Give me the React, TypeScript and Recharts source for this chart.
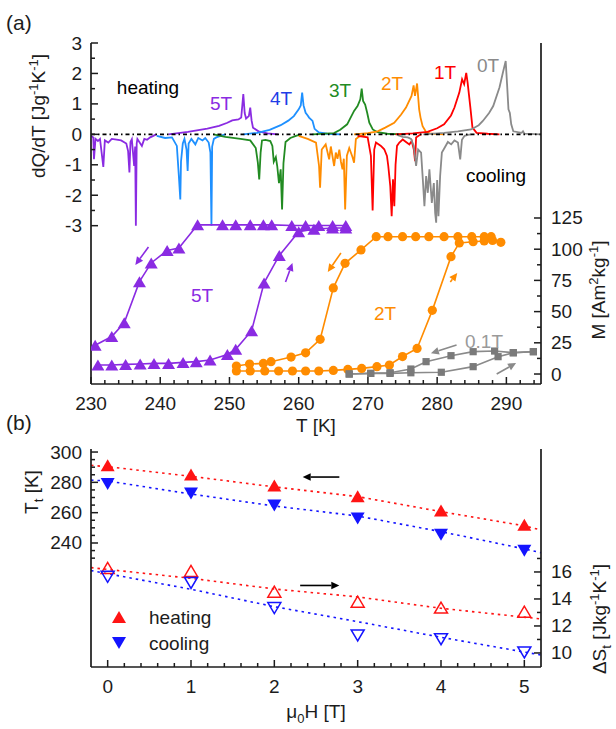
import { ComposedChart, Line, Scatter, XAxis, YAxis, ReferenceLine } from 'recharts'

const FONT = '"Liberation Sans", Arial, sans-serif'
const INK = '#1c1c1c'
const FS = 19

const PURPLE = '#8a2be2'
const BLUE = '#1e90ff'
const GREEN = '#228b22'
const ORANGE = '#ff8c00'
const RED = '#ff0000'
const GRAY = '#8a8a8a'
const RED_B = '#ff1414'
const BLUE_B = '#1414ff'

type P = [number, number]

// (a) dQ/dT [J/gK] vs T [K] -- heating runs (positive)
const heat5T: P[] = [[241.2, 0], [244, 0.08], [246.8, 0.19], [248.5, 0.28], [249.7, 0.38], [250.4, 0.46], [251.3, 0.49], [251.7, 0.55], [252, 1.32], [252.2, 0.7], [252.4, 0.52], [252.8, 0.6], [253, 0.88], [253.2, 0.45], [253.4, 0.22], [254.2, 0.1], [255.5, 0.03], [257, 0]]
const heat4T: P[] = [[252, 0], [254, 0.05], [255.8, 0.15], [257.4, 0.3], [258.5, 0.45], [259.3, 0.6], [260, 0.82], [260.3, 0.95], [260.5, 1.37], [260.7, 0.95], [261, 0.71], [261.3, 0.62], [261.5, 0.55], [262, 0.44], [262.3, 0.18], [262.9, 0.06], [264.1, 0.02], [266, 0]]
const heat3T: P[] = [[262, 0], [265.1, 0.04], [266, 0.15], [267, 0.33], [268, 0.77], [268.5, 0.93], [268.9, 1.15], [269.1, 1.5], [269.3, 1.1], [269.6, 0.98], [269.9, 0.7], [270.2, 0.38], [270.7, 0.16], [271.4, 0.07], [272.8, 0.02], [275, 0]]
const heat2T: P[] = [[268, 0], [270, 0.04], [271.4, 0.1], [272.5, 0.22], [273.8, 0.38], [274.8, 0.65], [275.5, 0.88], [276.3, 1.26], [276.6, 1.61], [276.8, 1.26], [277.1, 1.67], [277.4, 0.82], [277.6, 0.55], [277.9, 0.27], [278.4, 0.08], [279.1, 0.02], [281, 0]]
const heat1T: P[] = [[274, 0], [276.5, 0.03], [278.6, 0.08], [280, 0.2], [281, 0.33], [282, 0.62], [282.5, 0.88], [283.2, 1.37], [283.6, 1.81], [283.9, 1.65], [284.2, 2.02], [284.4, 1.7], [284.8, 0.88], [285.1, 0.22], [285.7, 0.05], [287.3, 0.02], [289, 0]]
const heat0T: P[] = [[278, 0], [281, 0.05], [283, 0.1], [284.9, 0.16], [286, 0.3], [286.6, 0.44], [287.5, 0.7], [288.1, 0.93], [289, 1.54], [289.5, 2.03], [289.9, 2.41], [290.1, 1.64], [290.3, 0.82], [290.5, 0.7], [290.7, 0.33], [291, 0.1], [292.2, 0.05], [292.4, 0.1], [292.6, 0.02], [295, 0]]

// cooling runs (negative spikes)
const cool5T: P[] = [[230.0, -0.05], [230.33, -0.1], [230.43, -0.82], [230.65, -0.15], [231.0, -0.22], [231.3, -0.15], [231.78, -1.07], [232.0, -0.2], [232.5, -0.27], [233.0, -0.15], [233.7, -0.17], [234.35, -0.2], [235.1, -0.3], [235.36, -0.55], [235.55, -1.25], [235.7, -0.25], [235.9, -0.16], [236.23, -1.04], [236.38, -0.4], [236.48, -3.0], [236.6, -0.3], [236.7, -0.15], [237.35, -0.38], [237.7, -0.15], [238.1, -0.18], [238.55, -0.1], [239.0, -0.05], [239.4, 0]]
const cool4T: P[] = [[239.5, -0.05], [240.7, -0.12], [241.7, -0.1], [242.4, -0.38], [242.7, -1.4], [242.9, -2.14], [243.0, -0.9], [243.26, -0.3], [243.5, -0.15], [243.8, -0.5], [243.96, -1.2], [244.1, -0.3], [244.5, -0.15], [245.07, -0.33], [245.5, -0.12], [246.1, -0.2], [246.5, -0.12], [247.0, -0.27], [247.25, -0.6], [247.4, -3.0], [247.5, -0.4], [247.75, -0.15], [248.1, -0.1], [248.7, -0.05], [249.4, 0]]
const cool3T: P[] = [[247.7, 0], [249.4, -0.08], [251.6, -0.15], [253.0, -0.2], [253.8, -0.45], [254.1, -0.93], [254.3, -1.48], [254.5, -0.6], [254.7, -0.2], [255.2, -0.18], [255.9, -0.22], [256.2, -0.38], [256.4, -0.9], [256.7, -0.75], [256.9, -1.04], [257.15, -1.6], [257.4, -1.15], [257.6, -2.47], [257.8, -0.95], [258.1, -0.25], [258.8, -0.12], [259.6, -0.05], [260.3, 0]]
const cool2T: P[] = [[260.0, -0.05], [261.3, -0.15], [262.5, -0.27], [262.94, -1.04], [263.09, -1.75], [263.33, -0.5], [263.9, -0.33], [264.4, -0.82], [264.64, -0.4], [265.12, -1.04], [265.36, -0.6], [265.6, -0.8], [265.87, -0.5], [266.1, -0.9], [266.33, -1.15], [266.52, -0.8], [266.71, -2.47], [266.96, -0.7], [267.3, -0.45], [267.78, -0.75], [268.0, -0.93], [268.26, -0.15], [268.7, -0.08], [269.7, 0]]
const cool1T: P[] = [[268.5, -0.05], [269.96, -0.1], [270.43, -0.71], [270.68, -2.5], [270.91, -0.5], [271.16, -0.27], [271.88, -0.38], [272.36, -0.49], [272.75, -0.71], [272.94, -1.04], [273.23, -1.7], [273.43, -2.69], [273.62, -1.48], [273.81, -2.36], [273.99, -1.0], [274.2, -0.38], [274.54, -0.27], [275.03, -0.17], [275.5, -0.25], [275.99, -0.33], [276.33, -0.22], [276.62, -0.49], [276.81, -0.88], [276.96, -0.1], [277.43, -0.03], [277.7, 0]]
const cool0T: P[] = [[274.3, -0.03], [275.03, -0.08], [275.75, -0.1], [276.23, -0.15], [276.62, -0.38], [276.96, -1.04], [277.25, -0.5], [277.68, -0.6], [277.93, -1.48], [278.16, -2.36], [278.41, -1.37], [278.65, -1.92], [278.88, -1.15], [279.23, -2.25], [279.52, -1.6], [279.71, -2.58], [279.86, -2.9], [280.0, -1.5], [280.19, -2.69], [280.43, -1.37], [280.68, -0.6], [281.06, -0.45], [281.55, -0.25], [282.03, -0.33], [282.5, -0.2], [283.0, -0.27], [283.33, -0.82], [283.58, -0.18], [283.96, -0.05], [284.45, -0.02], [284.9, 0]]

// (a) M [Am2/kg] vs T [K]
const m5Heat: P[] = [[231, 7.2], [233, 7.2], [235, 7.7], [237.1, 8], [239.1, 8.5], [241.2, 8.5], [243.3, 9.3], [245.2, 9.9], [247.2, 11.2], [249.7, 15.7], [250.9, 19.8], [253.2, 34.7], [255, 73], [257.2, 95], [260, 114], [262.2, 116], [264.9, 117], [266.8, 117]]
const m5Cool: P[] = [[266.8, 119], [264.9, 119], [262.9, 119], [261, 119], [259, 119], [256.1, 119.5], [254.9, 119.5], [253, 119.5], [250.9, 119.5], [249, 119.5], [245.4, 119.5], [242.7, 101], [241, 99], [238.7, 89], [237, 74], [234.8, 41], [233, 30], [230.6, 23]]
const m2Heat: P[] = [[251, 2.4], [253, 2.4], [255.1, 2.4], [257.1, 2.4], [259.1, 2.4], [261, 2.4], [262.9, 2.4], [265, 2.9], [267.1, 3.7], [269.1, 4.5], [271.3, 5.9], [273.1, 7.2], [275, 14], [277.1, 20.5], [279.3, 51], [282, 94], [283.2, 105], [285.2, 106], [286.8, 106.6], [288, 107], [289.2, 105.5]]
const m2Cool: P[] = [[287.8, 110], [286.8, 110], [285, 110], [283, 110], [281, 110], [278.8, 110], [276.9, 110], [275, 110], [272.9, 110], [271.2, 110], [269, 99.4], [266.7, 88.7], [265, 69], [263.1, 27.8], [261, 17], [258.9, 13.6], [256, 9.9], [254.9, 8.5], [252.9, 8], [251, 6.4]]
const m01Heat: P[] = [[267.3, 0], [270.4, 0.5], [273.2, 0.5], [276.2, 1], [280.6, 1.4], [285.2, 5.9], [288.8, 13.9], [291, 17], [293.9, 17.9]]
const m01Cool: P[] = [[293.9, 17.9], [291, 17.1], [288.3, 18.4], [285.2, 17.9], [282, 14.7], [278.4, 9.9], [276.2, 4], [273.2, 1], [270.4, 0.5], [267.3, 0]]

// arrows along the loops, [T, M] -> [T, M]
const mArrows: { from: P; to: P; key: string }[] = [
  { key: '5c', from: [238.3, 101.8], to: [236.4, 87.3] },
  { key: '5h', from: [258.1, 73.7], to: [259.1, 89] },
  { key: '2c', from: [266.1, 97], to: [264.2, 81.7] },
  { key: '2h', from: [281.9, 73.7], to: [282.9, 81] },
  { key: '01c', from: [282.8, 23.2], to: [279.1, 16.6] },
  { key: '01h', from: [288.6, 0], to: [291.4, 8.8] },
]

// (b) transition temperature and entropy change vs field
const fieldH = [0, 1, 2, 3, 4, 5]
const ttHeat = [291.2, 285.1, 277.9, 270.9, 261.5, 252]
const ttCool = [278.9, 272.6, 264.7, 256.2, 245.5, 234.8]
const dsHeat = [16.3, 16.08, 14.54, 13.8, 13.36, 13.06]
const dsCool = [15.64, 15.19, 13.33, 11.3, 11.02, 10.04]

// dotted fit curves
const fitTtHeat: P[] = [[-0.2, 291.2], [0, 290.3], [1, 284], [2, 277], [3, 270.6], [4, 260.7], [5, 251.3], [5.2, 248.6]]
const fitTtCool: P[] = [[-0.2, 281.5], [0, 280.9], [1, 272.3], [2, 264.4], [3, 257.8], [4, 247.5], [5, 236.1], [5.2, 233.6]]
const fitDsHeat: P[] = [[-0.2, 16.32], [1, 15.53], [2, 14.74], [3, 14.15], [4, 13.31], [5.2, 12.52]]
const fitDsCool: P[] = [[-0.2, 16.1], [1, 14.72], [2, 13.43], [3, 12.32], [4, 11.16], [5.2, 9.85]]

const tTicks = Array.from({ length: 33 }, (_, i) => 230 + 2 * i)
const qTicks = Array.from({ length: 13 }, (_, i) => -3 + 0.5 * i)
const mTicks = Array.from({ length: 11 }, (_, i) => 12.5 * i)
const hTicks = Array.from({ length: 26 }, (_, i) => i / 5)
const ttTicks = Array.from({ length: 15 }, (_, i) => 230 + 5 * i)
const dsTicks = [10, 11, 12, 13, 14, 15, 16, 17]

const qPts = (a: P[]) => a.map(([t, q]) => ({ t, q }))
const mPts = (a: P[]) => a.map(([t, m]) => ({ t, m }))
const hPts = (a: P[], k: string) => a.map(([h, v]) => ({ h, [k]: v }))

const TM = 8
type Side = 'left' | 'right' | 'bottom' | 'top'

function makeTick(side: Side, isMajor: (v: number) => boolean, label = true) {
  return (p: any) => {
    const v = p.payload.value
    const big = isMajor(v)
    const len = big ? 7 : 4
    const txt = { fontFamily: FONT, fontSize: FS, fill: INK }
    if (side === 'left') {
      const ax = p.x + TM
      return (
        <g>
          <line x1={ax} x2={ax + len} y1={p.y} y2={p.y} stroke={INK} strokeWidth={1.5} />
          {label && big && <text x={ax - 9} y={p.y} dy={6.5} textAnchor="end" {...txt}>{v}</text>}
        </g>
      )
    }
    if (side === 'right') {
      const ax = p.x - TM
      return (
        <g>
          <line x1={ax} x2={ax - len} y1={p.y} y2={p.y} stroke={INK} strokeWidth={1.5} />
          {label && big && <text x={ax + 10} y={p.y} dy={6.5} textAnchor="start" {...txt}>{v}</text>}
        </g>
      )
    }
    if (side === 'top') {
      const ay = p.y + TM
      return <line x1={p.x} x2={p.x} y1={ay} y2={ay + len} stroke={INK} strokeWidth={1.5} />
    }
    const ay = p.y - TM
    return (
      <g>
        <line x1={p.x} x2={p.x} y1={ay} y2={ay - len} stroke={INK} strokeWidth={1.5} />
        {label && big && <text x={p.x} y={ay + 26} textAnchor="middle" {...txt}>{v}</text>}
      </g>
    )
  }
}

const isInt = (v: number) => Math.abs(v - Math.round(v)) < 1e-6

function triPath(cx: number, cy: number, w: number, h: number, down = false) {
  const a = down ? 1 : -1
  return `M${cx},${cy + (a * h) / 2} L${cx - w / 2},${cy - (a * h) / 2} L${cx + w / 2},${cy - (a * h) / 2} Z`
}

const triDot = (color: string) => (p: any) =>
  <path key={`t${p.index}`} d={triPath(p.cx, p.cy, 13, 11)} fill={color} />
const circDot = (color: string) => (p: any) =>
  <circle key={`c${p.index}`} cx={p.cx} cy={p.cy} r={4.6} fill={color} />
const sqDot = (color: string) => (p: any) =>
  <rect key={`s${p.index}`} x={p.cx - 3.6} y={p.cy - 3.6} width={7.2} height={7.2} fill={color} />

const arrowShape = (color: string) => (p: any) => {
  const { x1, y1, x2, y2 } = p
  const ang = Math.atan2(y2 - y1, x2 - x1)
  const L = 8
  const W = 3.8
  const bx = x2 - L * Math.cos(ang)
  const by = y2 - L * Math.sin(ang)
  const px = -Math.sin(ang) * W
  const py = Math.cos(ang) * W
  return (
    <g>
      <line x1={x1} y1={y1} x2={bx} y2={by} stroke={color} strokeWidth={1.6} />
      <polygon points={`${x2},${y2} ${bx + px},${by + py} ${bx - px},${by - py}`} fill={color} />
    </g>
  )
}

const arrowColor: Record<string, string> = {
  '5c': PURPLE, '5h': PURPLE, '2c': ORANGE, '2h': ORANGE, '01c': GRAY, '01h': GRAY,
}

const heatSeries: [P[], string][] = [[heat5T, PURPLE], [heat4T, BLUE], [heat3T, GREEN], [heat2T, ORANGE], [heat1T, RED], [heat0T, GRAY]]
const coolSeries: [P[], string][] = [[cool5T, PURPLE], [cool4T, BLUE], [cool3T, GREEN], [cool2T, ORANGE], [cool1T, RED], [cool0T, GRAY]]

function PanelA() {
  const axisLine = { stroke: INK, strokeWidth: 1.7 }
  return (
    <ComposedChart width={616} height={440} margin={{ top: 43, right: 0, bottom: 6, left: 0 }}>
      <XAxis dataKey="t" type="number" domain={[230, 295]} allowDataOverflow ticks={tTicks} interval={0}
        height={50} tickSize={0} tickMargin={TM} tickLine={false} axisLine={axisLine}
        tick={makeTick('bottom', v => v % 10 === 0)} />
      <XAxis xAxisId="top" orientation="top" dataKey="t" type="number" domain={[230, 295]} allowDataOverflow
        ticks={tTicks} interval={0} height={0} tickSize={0} tickMargin={TM} tickLine={false} axisLine={axisLine}
        tick={makeTick('top', v => v % 10 === 0)} />
      <YAxis yAxisId="q" type="number" domain={[-8.2, 3]} allowDataOverflow ticks={qTicks} interval={0}
        width={91} tickSize={0} tickMargin={TM} tickLine={false} axisLine={axisLine}
        tick={makeTick('left', isInt)} />
      <YAxis yAxisId="qr" orientation="right" type="number" domain={[-8.2, 3]} allowDataOverflow ticks={qTicks}
        interval={0} width={0} tickSize={0} tickMargin={TM} tickLine={false} axisLine={false}
        tick={makeTick('right', isInt, false)} />
      <YAxis yAxisId="m" orientation="right" type="number" domain={[-8, 265.2]} allowDataOverflow ticks={mTicks}
        interval={0} width={75} tickSize={0} tickMargin={TM} tickLine={false} axisLine={axisLine}
        tick={makeTick('right', v => v % 25 === 0)} />

      {coolSeries.map(([d, c], i) => (
        <Line key={`c${i}`} yAxisId="q" data={qPts(d)} dataKey="q" type="linear" stroke={c} strokeWidth={1.8}
          dot={false} isAnimationActive={false} />
      ))}
      {heatSeries.map(([d, c], i) => (
        <Line key={`h${i}`} yAxisId="q" data={qPts(d)} dataKey="q" type="linear" stroke={c} strokeWidth={1.8}
          dot={false} isAnimationActive={false} />
      ))}
      <ReferenceLine yAxisId="q" y={0} stroke="#000" strokeWidth={1.6} strokeDasharray="4 3 1.5 3" />

      <Line yAxisId="m" data={mPts(m5Heat)} dataKey="m" stroke={PURPLE} strokeWidth={1.6} dot={triDot(PURPLE)} isAnimationActive={false} />
      <Line yAxisId="m" data={mPts(m5Cool)} dataKey="m" stroke={PURPLE} strokeWidth={1.6} dot={triDot(PURPLE)} isAnimationActive={false} />
      <Line yAxisId="m" data={mPts(m2Heat)} dataKey="m" stroke={ORANGE} strokeWidth={1.6} dot={circDot(ORANGE)} isAnimationActive={false} />
      <Line yAxisId="m" data={mPts(m2Cool)} dataKey="m" stroke={ORANGE} strokeWidth={1.6} dot={circDot(ORANGE)} isAnimationActive={false} />
      <Line yAxisId="m" data={mPts(m01Heat)} dataKey="m" stroke={GRAY} strokeWidth={1.6} dot={sqDot('#7a7a7a')} isAnimationActive={false} />
      <Line yAxisId="m" data={mPts(m01Cool)} dataKey="m" stroke={GRAY} strokeWidth={1.6} dot={sqDot('#7a7a7a')} isAnimationActive={false} />

      {mArrows.map(a => (
        <ReferenceLine key={a.key} yAxisId="m" segment={[{ x: a.from[0], y: a.from[1] }, { x: a.to[0], y: a.to[1] }]}
          shape={arrowShape(arrowColor[a.key])} />
      ))}
    </ComposedChart>
  )
}

function PanelB() {
  const axisLine = { stroke: INK, strokeWidth: 1.7 }
  const filledUp = (p: any) => <path d={triPath(p.cx, p.cy, 14, 12)} fill={RED_B} />
  const filledDown = (p: any) => <path d={triPath(p.cx, p.cy, 14, 12, true)} fill={BLUE_B} />
  const openUp = (p: any) => <path d={triPath(p.cx, p.cy, 13, 11)} fill="none" stroke={RED_B} strokeWidth={1.5} />
  const openDown = (p: any) => <path d={triPath(p.cx, p.cy, 13, 11, true)} fill="none" stroke={BLUE_B} strokeWidth={1.5} />
  const pts = (ys: number[], k: string) => fieldH.map((h, i) => ({ h, [k]: ys[i] }))
  return (
    <ComposedChart width={616} height={289} margin={{ top: 9, right: 0, bottom: 22, left: 0 }}>
      <XAxis dataKey="h" type="number" domain={[-0.2, 5.2]} allowDataOverflow ticks={hTicks} interval={0}
        height={40} tickSize={0} tickMargin={TM} tickLine={false} axisLine={axisLine}
        tick={makeTick('bottom', isInt)} />
      <XAxis xAxisId="top" orientation="top" dataKey="h" type="number" domain={[-0.2, 5.2]} allowDataOverflow
        height={0} tick={false} tickLine={false} axisLine={axisLine} />
      <YAxis yAxisId="tt" type="number" domain={[158.2, 302]} allowDataOverflow ticks={ttTicks} interval={0}
        width={91} tickSize={0} tickMargin={TM} tickLine={false} axisLine={axisLine}
        tick={makeTick('left', v => v % 20 === 0)} />
      <YAxis yAxisId="ds" orientation="right" type="number" domain={[8.96, 25.11]} allowDataOverflow ticks={dsTicks}
        interval={0} width={75} tickSize={0} tickMargin={TM} tickLine={false} axisLine={axisLine}
        tick={makeTick('right', v => v % 2 === 0)} />

      <Line yAxisId="tt" data={hPts(fitTtHeat, 'tt')} dataKey="tt" stroke={RED_B} strokeWidth={1.6} strokeDasharray="2.5 4" dot={false} isAnimationActive={false} />
      <Line yAxisId="tt" data={hPts(fitTtCool, 'tt')} dataKey="tt" stroke={BLUE_B} strokeWidth={1.6} strokeDasharray="2.5 4" dot={false} isAnimationActive={false} />
      <Line yAxisId="ds" data={hPts(fitDsHeat, 'ds')} dataKey="ds" stroke={RED_B} strokeWidth={1.6} strokeDasharray="2.5 4" dot={false} isAnimationActive={false} />
      <Line yAxisId="ds" data={hPts(fitDsCool, 'ds')} dataKey="ds" stroke={BLUE_B} strokeWidth={1.6} strokeDasharray="2.5 4" dot={false} isAnimationActive={false} />

      <Scatter yAxisId="tt" data={pts(ttHeat, 'tt')} dataKey="tt" shape={filledUp} isAnimationActive={false} />
      <Scatter yAxisId="tt" data={pts(ttCool, 'tt')} dataKey="tt" shape={filledDown} isAnimationActive={false} />
      <Scatter yAxisId="ds" data={pts(dsHeat, 'ds')} dataKey="ds" shape={openUp} isAnimationActive={false} />
      <Scatter yAxisId="ds" data={pts(dsCool, 'ds')} dataKey="ds" shape={openDown} isAnimationActive={false} />

      <ReferenceLine yAxisId="tt" segment={[{ x: 2.78, y: 283.5 }, { x: 2.34, y: 283.5 }]} shape={arrowShape('#000')} />
      <ReferenceLine yAxisId="ds" segment={[{ x: 2.31, y: 15 }, { x: 2.78, y: 15 }]} shape={arrowShape('#000')} />
    </ComposedChart>
  )
}

function Overlay() {
  const t = { fontFamily: FONT, fontSize: FS }
  const sup = { fontSize: 13 }
  return (
    <svg width={616} height={729} style={{ position: 'absolute', left: 0, top: 0, pointerEvents: 'none' }}>
      <text x={6} y={30} fontFamily={FONT} fontSize={21} fill={INK}>(a)</text>
      <text x={6} y={430} fontFamily={FONT} fontSize={21} fill={INK}>(b)</text>

      <text transform="translate(45,116) rotate(-90)" textAnchor="middle" {...t} fill={INK}>
        dQ/dT [Jg<tspan dy={-7} {...sup}>-1</tspan><tspan dy={7}>K</tspan><tspan dy={-7} {...sup}>-1</tspan><tspan dy={7}>]</tspan>
      </text>
      <text transform="translate(605,290) rotate(-90)" textAnchor="middle" {...t} fill={INK}>
        M [Am<tspan dy={-7} {...sup}>2</tspan><tspan dy={7}>kg</tspan><tspan dy={-7} {...sup}>-1</tspan><tspan dy={7}>]</tspan>
      </text>
      <text x={316} y={432} textAnchor="middle" {...t} fill={INK}>T [K]</text>

      <text x={148} y={94} textAnchor="middle" {...t} fill="#000">heating</text>
      <text x={496} y={182} textAnchor="middle" {...t} fill="#000">cooling</text>
      <text x={221} y={110} textAnchor="middle" {...t} fill={PURPLE}>5T</text>
      <text x={281} y={105} textAnchor="middle" {...t} fill="#1f3de6">4T</text>
      <text x={340} y={97} textAnchor="middle" {...t} fill={GREEN}>3T</text>
      <text x={392} y={90} textAnchor="middle" {...t} fill={ORANGE}>2T</text>
      <text x={445} y={79} textAnchor="middle" {...t} fill={RED}>1T</text>
      <text x={488} y={72} textAnchor="middle" {...t} fill={GRAY}>0T</text>
      <text x={202} y={302} textAnchor="middle" {...t} fill={PURPLE}>5T</text>
      <text x={385} y={320} textAnchor="middle" {...t} fill={ORANGE}>2T</text>
      <text x={484} y={348} textAnchor="middle" {...t} fill="#9a9a9a">0.1T</text>

      <text transform="translate(38,492) rotate(-90)" textAnchor="middle" {...t} fill={INK}>
        T<tspan dy={5} {...sup}>t</tspan><tspan dy={-5}> [K]</tspan>
      </text>
      <text transform="translate(606,619) rotate(-90)" textAnchor="middle" {...t} fill={INK}>
        ΔS<tspan dy={5} {...sup}>t</tspan><tspan dy={-5}> [Jkg</tspan><tspan dy={-7} {...sup}>-1</tspan><tspan dy={7}>K</tspan><tspan dy={-7} {...sup}>-1</tspan><tspan dy={7}>]</tspan>
      </text>
      <text x={316} y={718} textAnchor="middle" {...t} fill={INK}>
        μ<tspan dy={5} {...sup}>0</tspan><tspan dy={-5}>H [T]</tspan>
      </text>

      <path d={triPath(119, 617, 14, 12)} fill={RED_B} />
      <text x={149} y={624} {...t} fill={INK}>heating</text>
      <path d={triPath(119, 643, 14, 12, true)} fill={BLUE_B} />
      <text x={149} y={650} {...t} fill={INK}>cooling</text>
    </svg>
  )
}

export default function App() {
  return (
    <div style={{ position: 'absolute', left: 0, top: 0, width: 616, height: 729, background: '#fff' }}>
      <div style={{ position: 'absolute', left: 0, top: 0 }}>
        <PanelA />
      </div>
      <div style={{ position: 'absolute', left: 0, top: 440 }}>
        <PanelB />
      </div>
      <Overlay />
    </div>
  )
}
